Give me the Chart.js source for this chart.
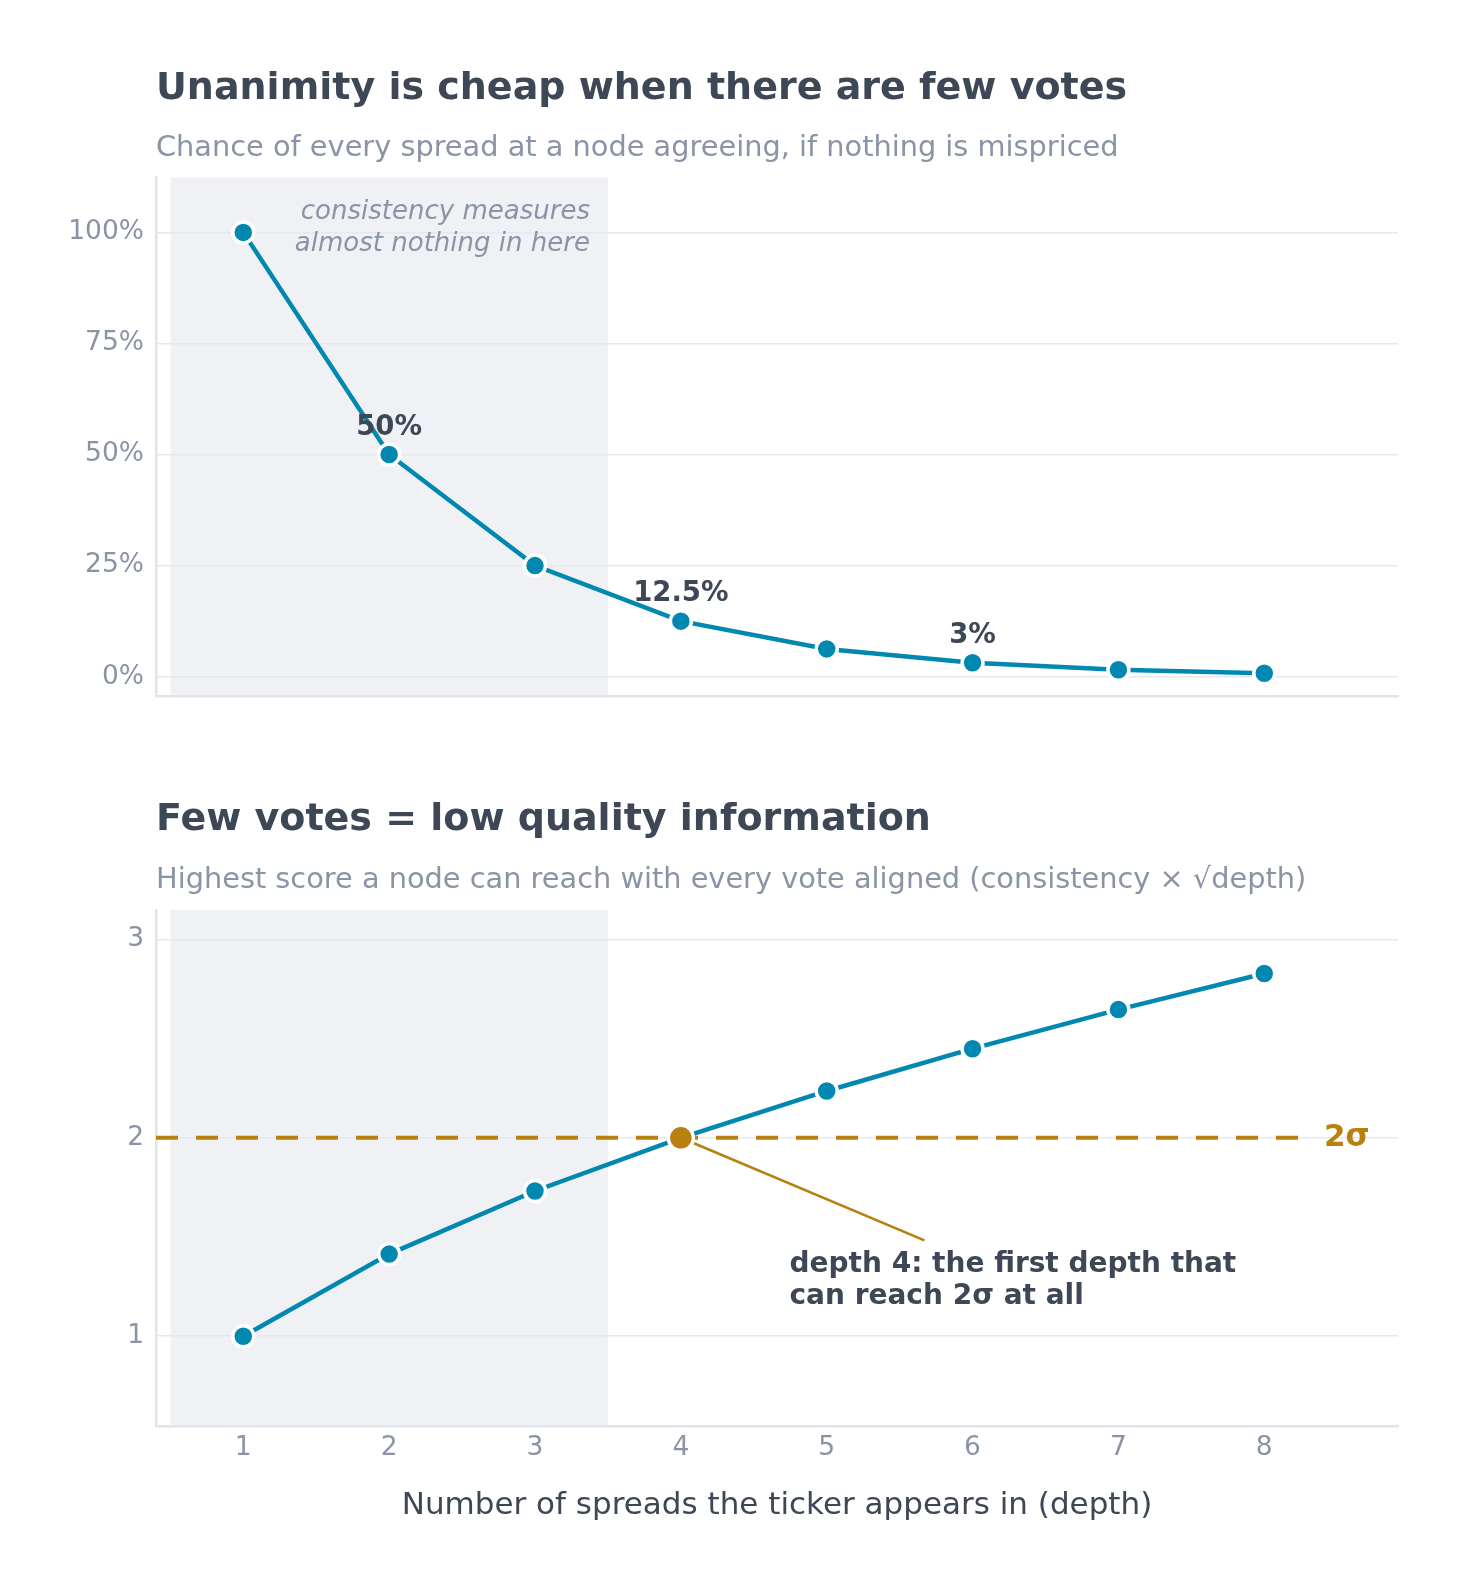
<!DOCTYPE html>
<html><head><meta charset="utf-8">
<script src="https://cdn.jsdelivr.net/npm/chart.js@4/dist/chart.umd.min.js"></script>
<style>
html,body{margin:0;padding:0;background:#fff;}
#w1{position:absolute;left:0;top:0;width:1465px;height:740px;}
#w2{position:absolute;left:0;top:740px;width:1465px;height:851px;}
</style></head><body>
<div id="w1"><canvas id="c1"></canvas></div>
<div id="w2"><canvas id="c2"></canvas></div>
<script>
// ---- data ----
const depths = [1, 2, 3, 4, 5, 6, 7, 8];
const consistency = [1, 0.5, 0.25, 0.125, 0.0625, 0.03125, 0.015625, 0.0078125];
const maxScore = [1.0, 1.414, 1.732, 2.0, 2.236, 2.449, 2.646, 2.828];
const topYTicks = [0, 0.25, 0.5, 0.75, 1];
const topYTickLabels = ['0%', '25%', '50%', '75%', '100%'];
const bottomYTicks = [1, 2, 3];
const xTicks = [1, 2, 3, 4, 5, 6, 7, 8];
const pointLabelDepths = [2, 4, 6];
const pointLabelTexts = ['50%', '12.5%', '3%'];
const lowDepthBand = [0.5, 3.5];
const threshold = 2;
const thresholdLabel = '2σ';
const highlightDepth = 4;
const bandNote = ['consistency measures', 'almost nothing in here'];
const calloutLines = ['depth 4: the first depth that', 'can reach 2σ at all'];
const titles = ['Unanimity is cheap when there are few votes', 'Few votes = low quality information'];
const subtitles = ['Chance of every spread at a node agreeing, if nothing is mispriced',
  'Highest score a node can reach with every vote aligned (consistency × √depth)'];
const xAxisTitle = 'Number of spreads the ticker appears in (depth)';

// ---- style ----
const FONT = "'DejaVu Sans', 'Noto Sans', sans-serif";
const BLUE = '#0088b1';
const GOLD = '#b8800f';
const DARK = '#3d4756';
const GRAY = '#8a94a6';
const BAND = '#eff1f5';
const GRID = '#e6e8ed';
const AXIS = '#e1e4ea';
const X_MIN = 0.4015, X_MAX = 8.917;
Chart.defaults.font.family = FONT;
Chart.defaults.animation = false;

const bandPlugin = {
  id: 'band',
  beforeDraw(chart) {
    const {ctx, chartArea: a, scales: {x}} = chart;
    const x0 = x.getPixelForValue(lowDepthBand[0]);
    const x1 = x.getPixelForValue(lowDepthBand[1]);
    ctx.save();
    ctx.fillStyle = BAND;
    ctx.fillRect(x0, a.top, x1 - x0, a.bottom - a.top - 1);
    ctx.restore();
  }
};

function yAxisBase(min, max, ticksArr, cb) {
  return {
    type: 'linear', min, max,
    afterBuildTicks: s => { s.ticks = ticksArr.map(v => ({value: v})); },
    afterFit: s => { s.width = 156; },
    grid: {color: GRID, lineWidth: 1.6, drawTicks: false},
    border: {display: true, color: AXIS, width: 2.5},
    ticks: {color: GRAY, font: {size: 26.5}, padding: 12, callback: cb}
  };
}

// ---- chart 1 ----
const notes1 = {
  id: 'notes1',
  afterDatasetsDraw(chart) {
    const {ctx, scales: {x, y}} = chart;
    ctx.save();
    ctx.fillStyle = DARK;
    ctx.font = `bold 27.5px ${FONT}`;
    ctx.textAlign = 'center';
    ctx.textBaseline = 'alphabetic';
    pointLabelDepths.forEach((d, k) => {
      const i = depths.indexOf(d);
      ctx.fillText(pointLabelTexts[k], x.getPixelForValue(d), y.getPixelForValue(consistency[i]) - 20);
    });
    ctx.fillStyle = GRAY;
    ctx.font = `italic 26px ${FONT}`;
    ctx.textAlign = 'right';
    ctx.textBaseline = 'middle';
    const xr = x.getPixelForValue(lowDepthBand[1]) - 18;
    bandNote.forEach((t, k) => ctx.fillText(t, xr, chart.chartArea.top + 35 + k * 32));
    ctx.restore();
  }
};

new Chart(document.getElementById('c1'), {
  type: 'scatter',
  data: {
    datasets: [{
      data: depths.map((d, i) => ({x: d, y: consistency[i]})),
      showLine: true, borderColor: BLUE, borderWidth: 4.5,
      pointRadius: 10.5, pointBorderWidth: 3.5,
      pointBackgroundColor: BLUE, pointBorderColor: '#ffffff', clip: false
    }]
  },
  options: {
    responsive: true, maintainAspectRatio: false,
    layout: {padding: {left: 0, right: 67, top: 0, bottom: 24}},
    scales: {
      x: {
        type: 'linear', min: X_MIN, max: X_MAX,
        afterFit: s => { s.height = 20; },
        grid: {display: false, drawTicks: false},
        border: {display: true, color: AXIS, width: 2.5},
        ticks: {display: false}
      },
      y: yAxisBase(-0.0435, 1.1236, topYTicks, v => topYTickLabels[topYTicks.indexOf(v)])
    },
    plugins: {
      legend: {display: false}, tooltip: {enabled: false},
      title: {display: true, text: titles[0], align: 'start', fullSize: false, color: DARK,
        font: {size: 38, weight: 'bold'}, padding: {top: 66.4, bottom: 18.9}},
      subtitle: {display: true, text: subtitles[0], align: 'start', fullSize: false, color: GRAY,
        font: {size: 28.8}, padding: {top: 0, bottom: 12}}
    }
  },
  plugins: [bandPlugin, notes1]
});

// ---- chart 2 ----
const notes2 = {
  id: 'notes2',
  afterDatasetsDraw(chart) {
    const {ctx, scales: {x, y}} = chart;
    ctx.save();
    ctx.fillStyle = GOLD;
    ctx.font = `bold 31px ${FONT}`;
    ctx.textAlign = 'left';
    ctx.textBaseline = 'middle';
    ctx.fillText(thresholdLabel, x.getPixelForValue(8.41), y.getPixelForValue(threshold));
    ctx.fillStyle = DARK;
    ctx.font = `bold 28px ${FONT}`;
    const lx = x.getPixelForValue(4.745);
    const ly = y.getPixelForValue(1.359);
    calloutLines.forEach((t, k) => ctx.fillText(t, lx, ly + k * 32));
    ctx.restore();
  }
};

new Chart(document.getElementById('c2'), {
  type: 'scatter',
  data: {
    datasets: [
      {
        data: depths.map((d, i) => ({x: d, y: maxScore[i]})),
        showLine: true, borderColor: BLUE, borderWidth: 4.5, order: 0,
        pointRadius: depths.map(d => d === highlightDepth ? 12.5 : 10.5),
        pointBorderWidth: 3.5,
        pointBackgroundColor: depths.map(d => d === highlightDepth ? GOLD : BLUE),
        pointBorderColor: '#ffffff', clip: false
      },
      {
        data: [{x: highlightDepth, y: threshold}, {x: 5.67, y: 1.483}],
        showLine: true, borderColor: GOLD, borderWidth: 2.6, pointRadius: 0, order: 1
      },
      {
        data: [{x: X_MIN, y: threshold}, {x: 8.3, y: threshold}],
        showLine: true, borderColor: GOLD, borderWidth: 4, borderDash: [22, 18],
        pointRadius: 0, order: 2
      }
    ]
  },
  options: {
    responsive: true, maintainAspectRatio: false,
    layout: {padding: {left: 0, right: 67, top: 0, bottom: 66.6}},
    scales: {
      x: {
        type: 'linear', min: X_MIN, max: X_MAX,
        afterBuildTicks: s => { s.ticks = xTicks.map(v => ({value: v})); },
        grid: {display: false, drawTicks: false},
        border: {display: true, color: AXIS, width: 2.5},
        ticks: {color: GRAY, font: {size: 26.5}, padding: 6, maxRotation: 0},
        title: {display: true, text: xAxisTitle, color: DARK, font: {size: 31},
          padding: {top: 17.6, bottom: 0}}
      },
      y: yAxisBase(0.549, 3.148, bottomYTicks, v => String(v))
    },
    plugins: {
      legend: {display: false}, tooltip: {enabled: false},
      title: {display: true, text: titles[1], align: 'start', fullSize: false, color: DARK,
        font: {size: 38, weight: 'bold'}, padding: {top: 57.4, bottom: 19.9}},
      subtitle: {display: true, text: subtitles[1], align: 'start', fullSize: false, color: GRAY,
        font: {size: 28.8}, padding: {top: 0, bottom: 12.5}}
    }
  },
  plugins: [bandPlugin, notes2]
});
</script>
</body></html>
